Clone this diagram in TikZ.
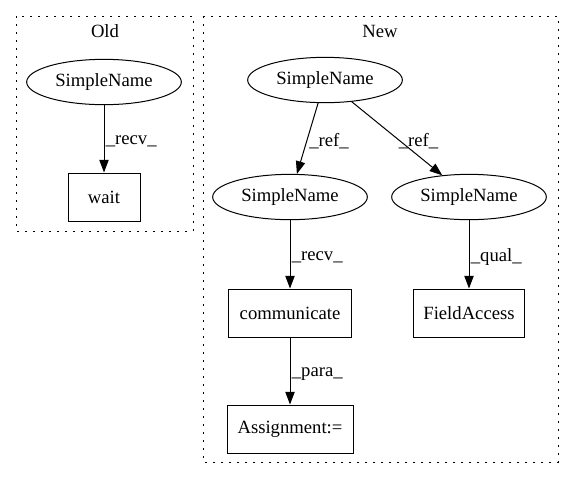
\documentclass[tikz,border=0pt]{standalone}
\usepackage{fontspec}
\setmainfont{Liberation Serif}
\usetikzlibrary{shapes.geometric,arrows.meta}

\begin{document}
\begin{tikzpicture}
  [x=0.75pt,y=-0.75pt,font=\fontsize{14}{16}\selectfont,
   simple/.style={ellipse,draw,line width=0.75pt,minimum width=116pt,minimum height=34pt,inner sep=0pt},
   stmt/.style={rectangle,draw,line width=0.75pt,minimum height=36pt,inner sep=0pt},
   cluster/.style={draw,line width=0.75pt,dash pattern=on 1.5pt off 4.5pt},
   edge/.style={-{Triangle[length=9.5pt,width=7pt]},line width=0.75pt}]
  \useasboundingbox (0,0) rectangle (573,480);
  \draw [cluster] (16,16) rectangle (193,231);
  \draw [cluster] (203,16) rectangle (558,462);
  \node (old) at (105,31) {Old};
  \node (new) at (380,31) {New};

  \node [simple] (o1) at (104,82) {SimpleName};
  \node [stmt,minimum width=54pt] (o2) at (104,197) {wait};

  \node [simple] (n1) at (325,80) {SimpleName};
  \node [simple] (n2) at (290,197) {SimpleName};
  \node [simple] (n3) at (469,197) {SimpleName};
  \node [stmt,minimum width=92pt] (n4) at (290,313) {communicate};
  \node [stmt,minimum width=83pt] (n5) at (469,313) {FieldAccess};
  \node [stmt,minimum width=94.5pt] (n6) at (290,429) {Assignment:=};

  \foreach \from/\to/\lab in {o1/o2/\_recv\_,n1/n2/\_ref\_,n1/n3/\_ref\_,n2/n4/\_recv\_,n3/n5/\_qual\_,n4/n6/\_para\_}
    \draw [edge] (\from) -- node [right,inner sep=1pt,yshift=-2pt] {\lab} (\to);

\end{tikzpicture}
\end{document}
